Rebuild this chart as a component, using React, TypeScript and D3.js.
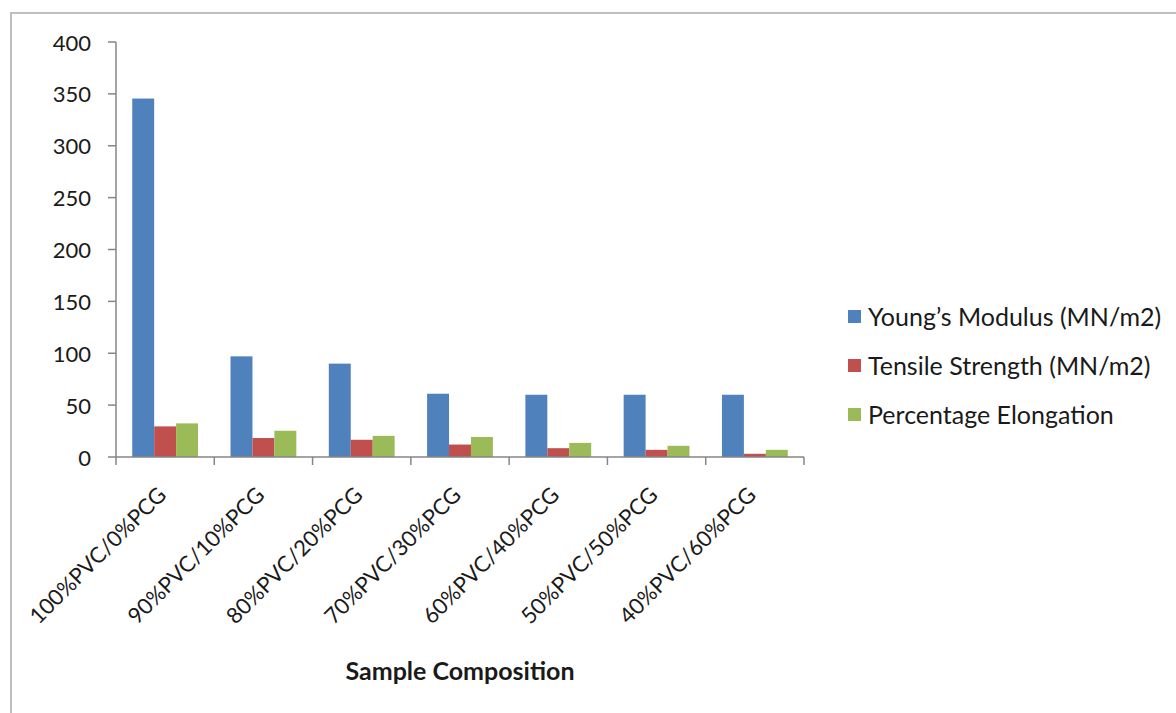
import React from "react";
import * as d3 from "d3";

const categories = [
  "100%PVC/0%PCG",
  "90%PVC/10%PCG",
  "80%PVC/20%PCG",
  "70%PVC/30%PCG",
  "60%PVC/40%PCG",
  "50%PVC/50%PCG",
  "40%PVC/60%PCG",
];

const seriesNames = [
  "Young\u2019s Modulus (MN/m2)",
  "Tensile Strength (MN/m2)",
  "Percentage Elongation",
];

const youngsModulus = [345.5, 97, 90, 61, 60, 60, 60];
const tensileStrength = [29.5, 18.3, 16.6, 12, 8.5, 6.9, 3.1];
const percentageElongation = [32.4, 25.3, 20.4, 19.3, 13.6, 10.8, 6.9];

const yTicks = [0, 50, 100, 150, 200, 250, 300, 350, 400];

const colors = ["#4F81BD", "#C0504D", "#9BBB59"];

const W = 1176;
const H = 713;
const FONT = "Lato, 'Liberation Sans', sans-serif";

export default function App() {
  const seriesValues = [youngsModulus, tensileStrength, percentageElongation];

  const x0 = d3.scaleBand<string>().domain(categories).range([116, 804]).padding(0);
  const x1 = d3
    .scaleBand<number>()
    .domain([0, 1, 2])
    .range([0, x0.bandwidth()])
    .paddingInner(0)
    .paddingOuter(0.74);
  const y = d3.scaleLinear().domain([0, 400]).range([457, 42]);

  const axisColor = "#868686";

  return (
    <svg
      width={W}
      height={H}
      style={{ position: "absolute", left: 0, top: 0, background: "#fff" }}
      fontFamily={FONT}
    >
      {/* chart frame */}
      <rect x={11} y={13} width={W} height={H} fill="none" stroke="#bfbfbf" strokeWidth={2} />

      {/* bars */}
      {categories.map((c, i) => (
        <g key={c} transform={`translate(${x0(c)},0)`}>
          {seriesValues.map((vals, s) => (
            <rect
              key={s}
              x={x1(s)}
              y={y(vals[i])}
              width={x1.bandwidth()}
              height={y(0) - y(vals[i])}
              fill={colors[s]}
            />
          ))}
        </g>
      ))}

      {/* y axis */}
      <line x1={116} x2={116} y1={y(400)} y2={y(0)} stroke={axisColor} strokeWidth={1.5} />
      {yTicks.map((t) => (
        <g key={t}>
          <line x1={108} x2={116} y1={y(t)} y2={y(t)} stroke={axisColor} strokeWidth={1.5} />
          <text
            x={91}
            y={y(t)}
            textAnchor="end"
            dominantBaseline="central"
            fontSize={22}
            fill="#1a1a1a"
          >
            {t}
          </text>
        </g>
      ))}

      {/* x axis */}
      <line x1={116} x2={804} y1={y(0)} y2={y(0)} stroke={axisColor} strokeWidth={1.5} />
      {d3.range(categories.length + 1).map((k) => {
        const xx = 116 + k * x0.step();
        return (
          <line key={k} x1={xx} x2={xx} y1={y(0)} y2={y(0) + 8} stroke={axisColor} strokeWidth={1.5} />
        );
      })}
      {categories.map((c) => {
        const cx = (x0(c) as number) + x0.bandwidth() / 2 - 10;
        const cy = 484;
        return (
          <text
            key={c}
            x={cx}
            y={cy}
            transform={`rotate(-45,${cx},${cy})`}
            textAnchor="end"
            dominantBaseline="hanging"
            fontSize={22}
            fill="#1a1a1a"
          >
            {c}
          </text>
        );
      })}

      {/* x axis title */}
      <text x={460} y={680} textAnchor="middle" fontSize={25} fontWeight="bold" fill="#1a1a1a">
        Sample Composition
      </text>

      {/* legend */}
      {seriesNames.map((n, s) => {
        const ly = 316 + s * 49;
        return (
          <g key={n}>
            <rect x={848} y={ly - 6} width={13} height={13} fill={colors[s]} />
            <text x={868} y={ly} dominantBaseline="central" fontSize={25} fill="#1a1a1a">
              {n}
            </text>
          </g>
        );
      })}
    </svg>
  );
}
